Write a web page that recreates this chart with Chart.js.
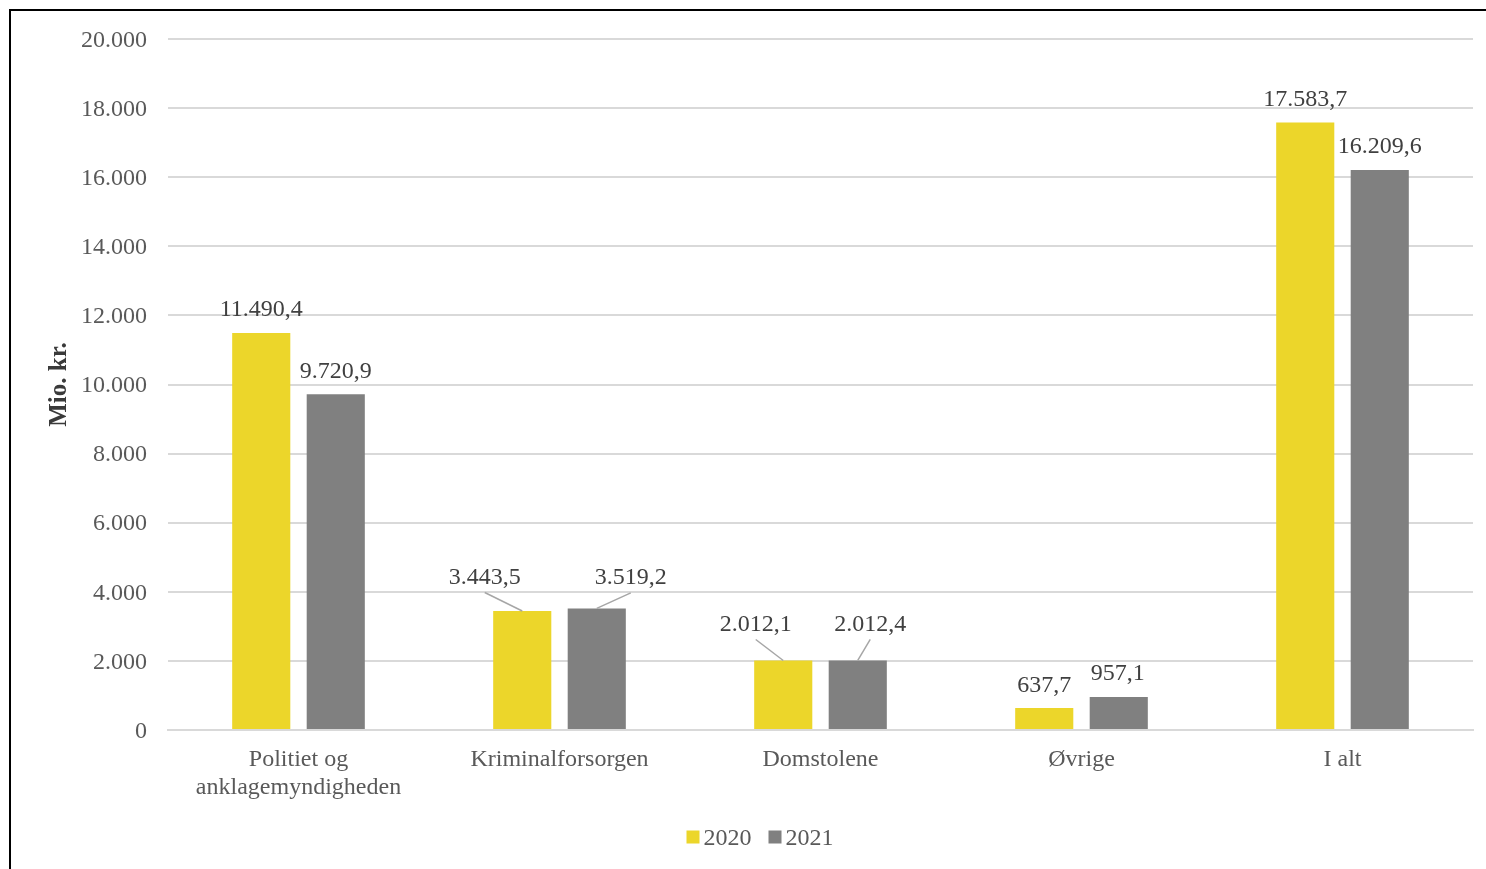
<!DOCTYPE html>
<html>
<head>
<meta charset="utf-8">
<script src="https://cdn.jsdelivr.net/npm/chart.js@4"></script>
<style>
html,body{margin:0;padding:0;background:#fff;}
#c{display:block;}
</style>
</head>
<body>
<canvas id="c" width="1486" height="869"></canvas>
<script>
const categories = [['Politiet og','anklagemyndigheden'], 'Kriminalforsorgen', 'Domstolene', 'Øvrige', 'I alt'];
const seriesNames = ['2020', '2021'];
const values2020 = [11490.4, 3443.5, 2012.1, 637.7, 17583.7];
const values2021 = [9720.9, 3519.2, 2012.4, 957.1, 16209.6];
const yTicks = [0, 2000, 4000, 6000, 8000, 10000, 12000, 14000, 16000, 18000, 20000];

const FONT = "'Liberation Serif', 'Times New Roman', serif";
const FS = 24;
const YELLOW = '#ECD62A';
const GREY = '#808080';

// label placement (dx, dy from bar top centre; leader line flag)
const labelPlacement = [
  [[0,-23.5,false],[-37.5,-33.5,true],[-27.5,-36,true],[0,-22.5,false],[0,-23,false]],
  [[0,-22.5,false],[34,-30.5,true],[12.5,-36,true],[-1,-23.5,false],[0,-23.5,false]]
];

function fmtThousands(n){
  const s = Math.round(n).toString();
  return s.replace(/\B(?=(\d{3})+(?!\d))/g, '.');
}
function fmtDec(v){
  const neg = v < 0; v = Math.abs(v);
  const whole = Math.floor(v + 1e-9);
  const dec = Math.round((v - whole) * 10);
  let w = whole, d = dec;
  if (d === 10) { w += 1; d = 0; }
  return (neg?'-':'') + fmtThousands(w) + ',' + d;
}

const framePlugin = {
  id: 'frame',
  beforeDraw(chart){
    const ctx = chart.ctx;
    ctx.save();
    ctx.fillStyle = '#fff';
    ctx.fillRect(0, 0, chart.width, chart.height);
    ctx.fillStyle = '#000';
    ctx.fillRect(9, 9, chart.width - 9, 2);
    ctx.fillRect(9, 9, 2, chart.height - 9);
    ctx.restore();
  }
};

const labelPlugin = {
  id: 'barLabels',
  afterDatasetsDraw(chart){
    const ctx = chart.ctx;
    ctx.save();
    ctx.font = FS + "px " + FONT;
    ctx.textAlign = 'center';
    ctx.textBaseline = 'middle';
    chart.data.datasets.forEach((ds, di) => {
      const meta = chart.getDatasetMeta(di);
      meta.data.forEach((bar, i) => {
        const p = labelPlacement[di][i];
        const lx = bar.x + p[0], ly = bar.y + p[1];
        if (p[2]) {
          ctx.strokeStyle = '#a6a6a6';
          ctx.lineWidth = 1.5;
          ctx.beginPath();
          ctx.moveTo(lx, ly + 15);
          ctx.lineTo(bar.x, bar.y);
          ctx.stroke();
        }
        ctx.fillStyle = '#404040';
        ctx.fillText(fmtDec(ds.data[i]), lx, ly);
      });
    });
    ctx.restore();
  }
};

const legendPlugin = {
  id: 'customLegend',
  afterDraw(chart){
    const ctx = chart.ctx;
    ctx.save();
    ctx.font = FS + "px " + FONT;
    ctx.textBaseline = 'middle';
    ctx.textAlign = 'left';
    const box = 13, gap = 4, itemGap = 17;
    const items = chart.data.datasets.map(d => ({label: d.label, color: d.backgroundColor, w: box + gap + ctx.measureText(d.label).width}));
    const total = items.reduce((a, it) => a + it.w, 0) + itemGap * (items.length - 1);
    let x = 760 - total / 2;
    const y = 837;
    items.forEach(it => {
      ctx.fillStyle = it.color;
      ctx.fillRect(x, y - box/2, box, box);
      ctx.fillStyle = '#595959';
      ctx.fillText(it.label, x + box + gap, y + 2);
      x += it.w + itemGap;
    });
    ctx.restore();
  }
};

new Chart(document.getElementById('c'), {
  type: 'bar',
  data: {
    labels: categories,
    datasets: [
      {label: seriesNames[0], data: values2020, backgroundColor: YELLOW, categoryPercentage: 0.571, barPercentage: 0.78},
      {label: seriesNames[1], data: values2021, backgroundColor: GREY, categoryPercentage: 0.571, barPercentage: 0.78}
    ]
  },
  options: {
    responsive: false,
    animation: false,
    layout: {padding: {left: 0, top: 39, right: 13, bottom: 0}},
    plugins: {legend: {display: false}, tooltip: {enabled: false}, title: {display: false}},
    scales: {
      x: {
        grid: {display: false, drawTicks: false},
        border: {display: true, color: '#d9d9d9', width: 2},
        ticks: {color: '#595959', font: {family: FONT, size: FS, lineHeight: 1.2}, padding: 15, maxRotation: 0, autoSkip: false},
        afterFit(scale){ scale.height = 139; }
      },
      y: {
        min: 0, max: 20000,
        afterBuildTicks(scale){ scale.ticks = yTicks.map(v => ({value: v})); },
        grid: {color: '#d9d9d9', lineWidth: 2, drawTicks: false},
        border: {display: false},
        ticks: {color: '#595959', font: {family: FONT, size: FS, lineHeight: 1.0}, padding: 21, labelOffset: 1.5, callback: v => fmtThousands(v)},
        title: {display: true, text: 'Mio. kr.', color: '#3a3a3a', font: {family: FONT, size: 25, weight: 'bold'}, padding: {top: 45, bottom: 0}},
        afterFit(scale){ scale.width = 168; }
      }
    }
  },
  plugins: [framePlugin, labelPlugin, legendPlugin]
});
</script>
</body>
</html>
